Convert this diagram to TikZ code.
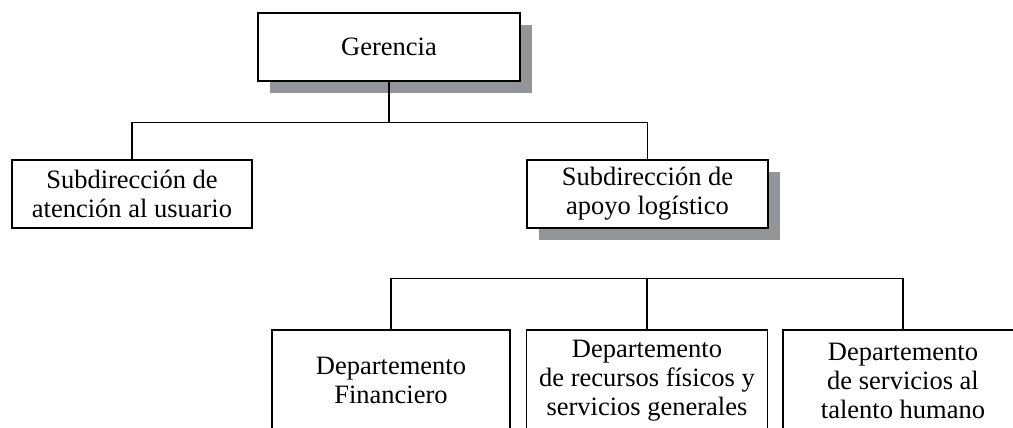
\documentclass[tikz,border=0pt]{standalone}
\usepackage{fontspec}
\setmainfont{Liberation Serif}
\usetikzlibrary{shadows}
\definecolor{shadowgray}{RGB}{147,149,152}
\begin{document}
\begin{tikzpicture}[x=1pt,y=-1pt,
  box/.style={draw=black, fill=white, line width=1.5pt, rectangle, align=center, inner sep=0pt,
    font=\fontsize{26.5}{29}\selectfont},
  shadowbox/.style={box, drop shadow={shadow xshift=12pt, shadow yshift=-12pt, fill=shadowgray, opacity=1}},
  conn/.style={draw=black, line width=1.4pt}]
\useasboundingbox (0,0) rectangle (1013,428);
\clip (0,0) rectangle (1013,428);
\node[shadowbox, minimum width=262pt, minimum height=68pt] (g) at (389,47) {Gerencia};
\node[box, minimum width=240pt, minimum height=68pt] (sl) at (132,194) {Subdirección de\\atención al usuario};
\node[shadowbox, minimum width=241pt, minimum height=68pt] (sr) at (647.5,194) {Subdirección de\\apoyo logístico};
\node[box, minimum width=238pt, minimum height=101pt] (b1) at (391,380.5) {Departemento\\Financiero};
\node[box, minimum width=241pt, minimum height=101pt] (b2) at (647,380.5) {Departemento\\de recursos físicos y\\servicios generales};
\node[box, minimum width=240pt, minimum height=101pt] (b3) at (903,380.5) {Departemento\\de servicios al\\talento humano};
\draw[conn] (g.south) -- ++(0,41) coordinate (j1);
\draw[conn] (sl.north) |- (j1) -| (sr.north);
\draw[conn] (b1.north) -- ++(0,-51) coordinate (j2);
\draw[conn] (j2) -| (b3.north);
\draw[conn] (b2.north) -- (b2.north |- j2);
\end{tikzpicture}
\end{document}
